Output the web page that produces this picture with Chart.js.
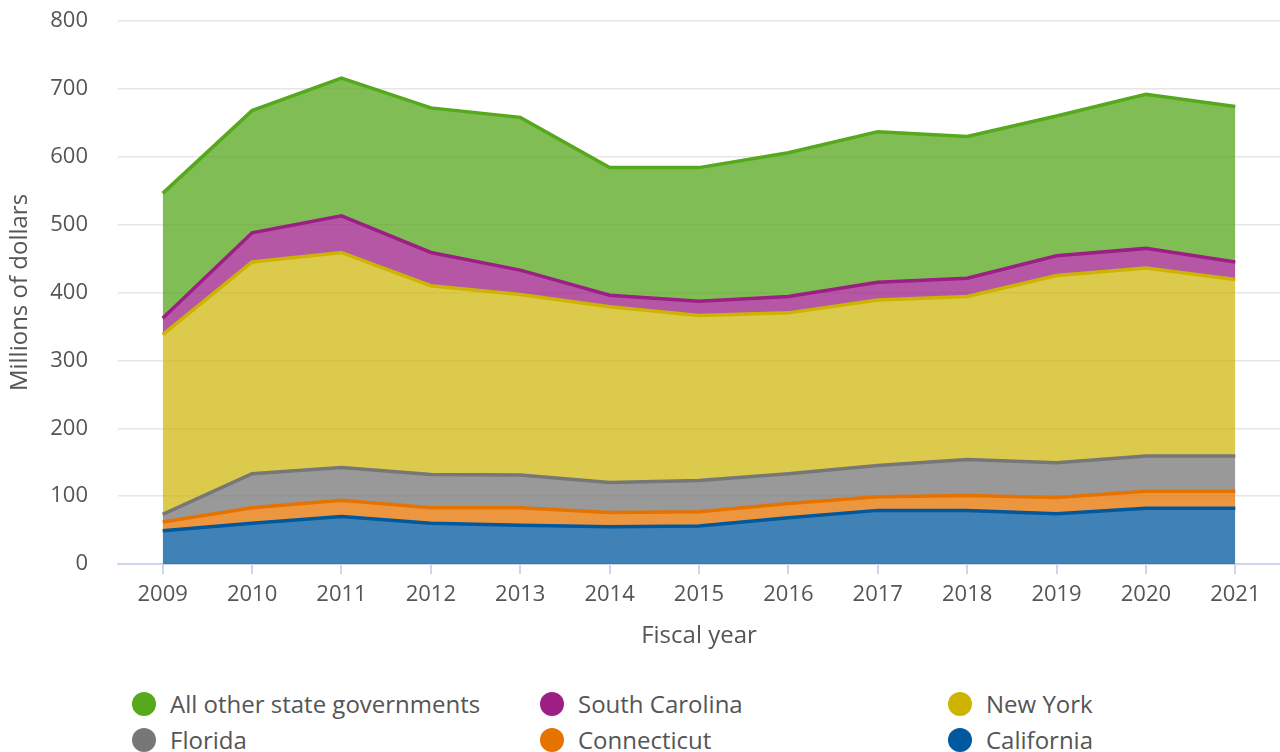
<!DOCTYPE html>
<html>
<head>
<meta charset="utf-8">
<script src="https://cdn.jsdelivr.net/npm/chart.js@4/dist/chart.umd.min.js"></script>
<style>
  body { margin: 0; background: #fff; font-family: "Open Sans", sans-serif; }
  #wrap { position: relative; width: 1280px; height: 752px; overflow: hidden; }
  #box { position: absolute; left: 0; top: 0; width: 1280px; height: 652px; }
  #legend { position: absolute; left: 0; top: 686px; width: 1280px; }
  .item { position: absolute; display: flex; align-items: center; font-size: 24px; line-height: 36px; color: #555; white-space: nowrap; }
  .dot { width: 24px; height: 24px; border-radius: 50%; margin-right: 14px; }
</style>
</head>
<body>
<div id="wrap">
  <div id="box"><canvas id="chart"></canvas></div>
  <div id="legend"></div>
</div>
<script>
var years = ['2009', '2010', '2011', '2012', '2013', '2014', '2015', '2016', '2017', '2018', '2019', '2020', '2021'];

// millions of dollars
var california     = [49, 60, 70, 60, 57, 55, 56, 68, 79, 79, 74, 82, 82];
var connecticut    = [13, 23, 24, 23, 26, 21, 21, 21, 20, 22, 24, 25, 25];
var florida        = [11, 50, 48, 49, 48, 44, 46, 44, 46, 53, 51, 52, 52];
var newYork        = [265, 312, 317, 278, 266, 259, 243, 237, 244, 240, 276, 277, 260];
var southCarolina  = [24, 43, 54, 49, 36, 17, 21, 24, 26, 27, 29, 29, 26];
var allOther       = [184, 180, 203, 213, 225, 188, 197, 212, 222, 209, 206, 227, 229];

var yTicks = [0, 100, 200, 300, 400, 500, 600, 700, 800];

function layer(label, data, line, fillColor, fill) {
    return {
        label: label,
        data: data,
        borderColor: line,
        backgroundColor: fillColor,
        borderWidth: 3.5,
        fill: fill,
        pointRadius: 0,
        tension: 0
    };
}

var datasets = [
    layer('California', california, '#00589e', 'rgba(0, 88, 158, 0.75)', 'origin'),
    layer('Connecticut', connecticut, '#e67300', 'rgba(230, 115, 0, 0.75)', '-1'),
    layer('Florida', florida, '#777777', 'rgba(119, 119, 119, 0.75)', '-1'),
    layer('New York', newYork, '#ccb400', 'rgba(204, 180, 0, 0.7)', '-1'),
    layer('South Carolina', southCarolina, '#9c1f86', 'rgba(156, 31, 134, 0.75)', '-1'),
    layer('All other state governments', allOther, '#56a81c', 'rgba(86, 168, 28, 0.75)', '-1')
];

var ctx = document.getElementById('chart');
var chart = new Chart(ctx, {
    type: 'line',
    data: { labels: years, datasets: datasets },
    options: {
        responsive: true,
        maintainAspectRatio: false,
        animation: false,
        layout: { padding: { top: 21, right: 0, left: 0, bottom: 0 } },
        plugins: {
            legend: { display: false },
            tooltip: { enabled: false }
        },
        scales: {
            x: {
                offset: true,
                afterFit: function (axis) {
                    axis.height = 88;
                    axis.paddingLeft = 0;
                    axis.paddingRight = 0;
                },
                grid: { drawOnChartArea: false, color: '#ccd6eb', lineWidth: 2, tickLength: 10 },
                border: { color: '#ccd6eb', width: 2 },
                ticks: { color: '#555', font: { family: 'Open Sans', size: 22 }, padding: 8, maxRotation: 0 },
                title: { display: true, text: 'Fiscal year', color: '#555', font: { family: 'Open Sans', size: 24 }, padding: { top: 0, bottom: 1 } }
            },
            y: {
                stacked: true,
                min: 0,
                max: 800,
                afterBuildTicks: function (axis) {
                    axis.ticks = yTicks.map(function (v) { return { value: v }; });
                },
                afterFit: function (axis) {
                    axis.width = 118;
                    axis.paddingTop = 0;
                    axis.paddingBottom = 0;
                },
                grid: { color: '#e6e6e6', lineWidth: 1.5, drawTicks: false },
                border: { display: false },
                ticks: { color: '#555', font: { family: 'Open Sans', size: 22 }, padding: 30 },
                title: { display: true, text: 'Millions of dollars', color: '#555', font: { family: 'Open Sans', size: 24 }, padding: { top: 6, bottom: 15 } }
            }
        }
    }
});

// legend in three columns, same order as the reference
var legendOrder = [5, 4, 3, 2, 1, 0];
var colX = [132, 540, 948];
var rowY = [0, 36];
var legend = document.getElementById('legend');
legendOrder.forEach(function (idx, i) {
    var ds = datasets[idx];
    var el = document.createElement('div');
    el.className = 'item';
    el.style.left = colX[i % 3] + 'px';
    el.style.top = rowY[Math.floor(i / 3)] + 'px';
    el.innerHTML = '<span class="dot" style="background:' + ds.borderColor + '"></span>' + ds.label;
    legend.appendChild(el);
});
</script>
</body>
</html>
